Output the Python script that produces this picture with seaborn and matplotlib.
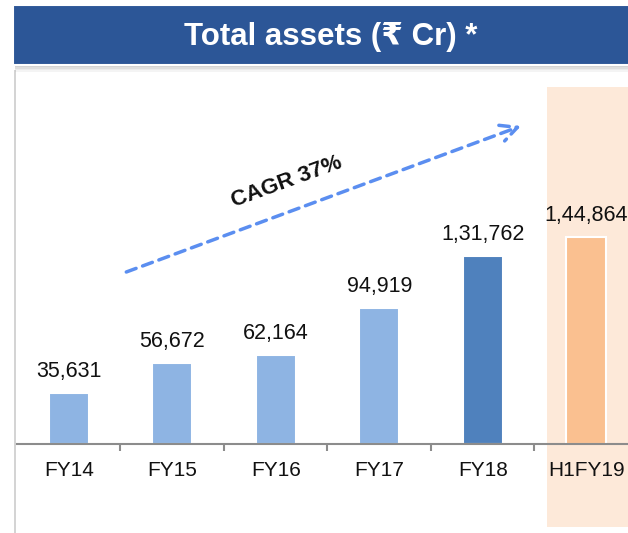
import matplotlib
matplotlib.use('Agg')
import matplotlib.pyplot as plt
import matplotlib.patches as mpatches
import seaborn as sns
import pandas as pd

# chart data
years = ['FY14', 'FY15', 'FY16', 'FY17', 'FY18', 'H1FY19']
assets = [35631, 56672, 62164, 94919, 131762, 144864]
value_labels = ['35,631', '56,672', '62,164', '94,919', '1,31,762', '1,44,864']
bar_colors = ['#8EB4E3', '#8EB4E3', '#8EB4E3', '#8EB4E3', '#4F81BD', '#FAC090']
title = 'Total assets (\u20b9 Cr) *'
cagr_text = 'CAGR 37%'

sns.set_theme(style='white')
plt.rcParams['font.family'] = ['Liberation Sans', 'DejaVu Sans']

W, H = 628, 533
fig = plt.figure(figsize=(W / 100, H / 100), dpi=100)

'''background decorations in pixel space'''
def px_rect(x0, y0, x1, y1, **kw):
    r = mpatches.Rectangle((x0 / W, 1 - y1 / H), (x1 - x0) / W, (y1 - y0) / H,
                           transform=fig.transFigure, **kw)
    fig.add_artist(r)
    return r

# highlight for the half year column
px_rect(547, 87, 640, 527, facecolor='#FDE9D9', edgecolor='none', zorder=0)
# left border line
px_rect(14.5, 70, 16.5, 533, facecolor='#D4D4D4', edgecolor='none', zorder=0)
# banner shadow
for i, a in enumerate([0.35, 0.25, 0.15, 0.08]):
    px_rect(15, 65 + i * 1.8, 640, 66.8 + i * 1.8, facecolor='#7F7F7F', alpha=a,
            edgecolor='none', zorder=1)
# title banner
px_rect(13, 5, 640, 65, facecolor='#2C5697', edgecolor='white', linewidth=1.5, zorder=2)
fig.text(331 / W, 1 - 37 / H, title, color='white', fontsize=22.5,
         fontweight='bold', ha='center', va='center', zorder=3)

'''bar chart'''
ax = fig.add_axes([17 / W, 1 - 444 / H, (638 - 17) / W, (444 - 86) / H])
ax.set_facecolor('none')

df = pd.DataFrame({'year': years, 'assets': assets})
sns.barplot(data=df, x='year', y='assets', hue='year', palette=bar_colors, saturation=1,
            width=0.39, edgecolor='white', linewidth=1.5, legend=False, ax=ax)

for i, (v, lab) in enumerate(zip(assets, value_labels)):
    ax.annotate(lab, (i, v), xytext=(0, 8), textcoords='offset points',
                ha='center', va='bottom', fontsize=15.5, color='#111111')

ax.set_xlim(-0.5, 5.5)
ax.set_ylim(0, 250600)
ax.set_xlabel('')
ax.set_ylabel('')
ax.set_yticks([])
ax.set_xticks(range(len(years)))
ax.set_xticklabels(years, fontsize=15, color='#111111')
ax.set_xticks([0.5, 1.5, 2.5, 3.5, 4.5], minor=True)
ax.tick_params(axis='x', which='major', length=0, pad=12)
ax.tick_params(axis='x', which='minor', length=5, width=1.5, color='#8C8C8C', direction='out', bottom=True)
for s in ['top', 'right', 'left']:
    ax.spines[s].set_visible(False)
ax.spines['bottom'].set_color('#8C8C8C')
ax.spines['bottom'].set_linewidth(1.5)

# CAGR arrow
ax.annotate('', xy=(4.37, 222600), xytext=(0.556, 120400),
            arrowprops=dict(arrowstyle='->,head_length=1.0,head_width=0.5', color='#5B8EF0',
                            lw=2.5, linestyle=(0, (3, 2)), shrinkA=0, shrinkB=0))
ax.text(2.11, 183400, cagr_text, rotation=20, fontsize=16, fontweight='bold',
        ha='center', va='center', color='#111111')

fig.savefig('out.png', dpi=100)
